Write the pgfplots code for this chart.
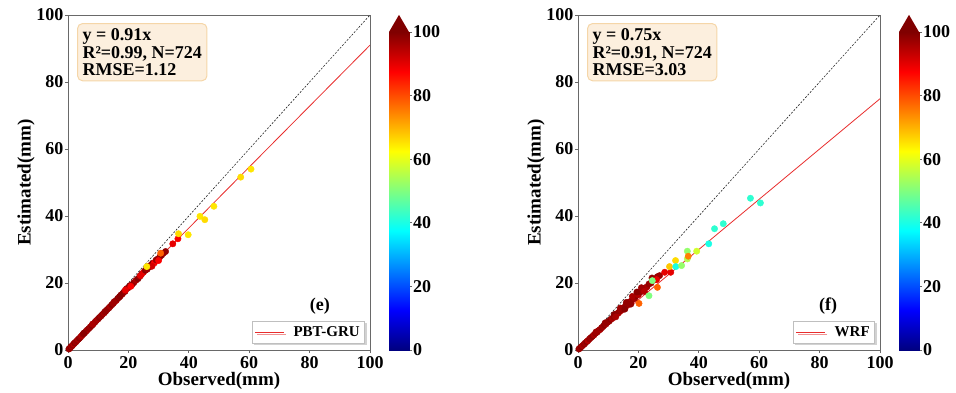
\documentclass[border=0pt]{standalone}
\usepackage{pgfplots}
\pgfplotsset{compat=1.18}
\usepackage{pgfplotstable}
\usepackage{fontspec}
\setmainfont{Liberation Serif}
\usetikzlibrary{shadows}
\definecolor{fitred}{RGB}{232,45,45}
\definecolor{frame}{RGB}{105,105,105}
\definecolor{boxfill}{RGB}{252,239,222}
\definecolor{boxdraw}{RGB}{245,214,168}
\definecolor{jetdark}{RGB}{128,0,0}

\pgfplotstableread{
x y c
0.3 0.3 98
0.6 0.5 97
0.9 0.9 99
1.2 1.1 96
1.5 1.4 98
1.9 1.8 95
2.2 2.1 99
2.6 2.4 97
3.0 2.8 98
3.4 3.2 96
3.8 3.5 99
4.2 3.9 97
4.6 4.3 95
5.0 4.7 98
5.5 5.1 97
6.0 5.6 99
6.4 6.0 96
6.9 6.4 98
7.4 6.9 97
7.9 7.3 99
8.4 7.8 95
8.9 8.3 98
9.4 8.8 97
9.9 9.2 96
10.4 9.7 99
10.9 10.1 97
11.4 10.6 98
12.0 11.1 96
12.5 11.6 99
13.0 12.1 97
13.5 12.5 98
14.0 13.0 96
14.5 13.5 99
15.0 13.9 97
15.5 14.5 98
16.0 14.8 95
16.5 15.4 99
17.0 15.8 97
17.5 16.4 98
18.0 16.7 96
18.4 17.2 99
18.9 17.5 97
19.4 18.3 98
20.0 18.6 96
20.5 19.2 99
21.2 19.5 97
21.8 20.1 98
22.5 20.8 96
23.2 21.3 99
23.8 22.0 97
24.4 22.7 98
25.0 23.2 90
25.6 23.8 99
26.2 24.1 97
26.8 24.7 98
27.4 25.3 96
28.0 25.9 99
28.6 26.0 88
29.2 26.9 97
29.8 27.2 98
30.4 27.8 96
31.0 28.3 99
31.6 28.9 97
32.3 29.4 98
5.2 5.0 99
8.1 7.7 96
12.2 11.4 98
15.2 14.3 97
17.2 16.0 99
19.0 17.9 90
20.8 19.0 88
24.0 22.2 90
26.5 24.9 99
27.8 25.0 92
30.0 26.7 88
26.1 24.9 65
30.7 28.9 78
34.7 31.7 90
36.4 33.2 88
36.6 34.7 66
39.8 34.4 65
43.7 39.9 65
45.3 38.9 66
48.3 42.9 65
57.2 51.6 66
60.6 54.0 65
}\gru

\pgfplotstableread{
x y c
0.3 0.3 98
0.7 0.6 97
1.1 1.0 99
1.5 1.3 96
2.0 1.7 98
2.4 2.1 97
2.9 2.5 99
3.3 2.8 95
3.8 3.3 98
4.3 3.7 97
4.8 4.1 99
5.3 4.5 96
5.8 5.0 98
6.3 5.3 97
6.8 5.8 99
7.3 6.1 95
7.8 6.6 98
8.3 7.0 97
8.8 7.5 99
9.3 7.8 96
9.8 8.3 98
10.3 8.6 97
10.8 9.1 99
11.3 9.4 96
11.8 9.9 98
12.3 10.2 97
12.8 10.8 99
13.3 11.0 95
13.8 11.6 98
14.3 11.9 97
14.8 12.5 99
15.3 12.6 96
15.8 13.3 98
16.4 13.5 97
17.0 14.3 99
17.6 14.6 96
18.2 15.3 98
18.8 15.4 97
19.4 16.3 99
20.0 16.5 95
20.7 17.4 98
21.4 17.6 97
22.1 18.5 99
22.8 18.8 96
23.5 19.7 98
24.2 20.0 97
24.9 20.9 99
25.6 21.2 96
26.3 21.9 98
27.0 22.2 97
6.0 5.4 97
9.0 8.1 98
12.0 10.6 99
14.0 12.5 97
16.0 14.2 98
18.0 16.0 96
19.5 17.3 99
21.0 18.6 97
24.5 21.5 98
26.0 21.0 90
12.5 9.9 96
15.5 12.2 99
17.5 13.7 98
22.0 17.5 95
28.7 23.2 90
30.7 23.2 90
30.3 24.9 68
32.3 26.7 66
32.4 24.9 40
34.3 25.2 52
36.2 27.2 55
36.2 29.5 52
39.3 29.5 58
36.5 28.0 75
43.3 31.7 40
45.2 36.2 42
48.1 37.7 42
57.1 45.3 42
60.4 43.9 42
23.5 16.2 50
24.6 20.7 50
26.3 18.7 78
20.2 13.9 78
}\wrf

\tikzset{
  info/.style={anchor=north west, draw=boxdraw, fill=boxfill, rounded corners=5pt,
    line width=1pt, align=left, inner xsep=5pt, inner ysep=5pt,
    font=\bfseries\fontsize{18}{17.5}\selectfont},
}
\pgfplotsset{
  myaxis/.style={
    anchor=south west,
    scale only axis, width=302pt, height=335pt,
    xmin=0, xmax=100, ymin=0, ymax=100,
    xtick={0,20,...,100}, ytick={0,20,...,100},
    tick align=outside, major tick length=3pt, tick pos=left,
    axis line style={frame, line width=0.8pt},
    tick style={frame, line width=0.8pt},
    /pgf/number format/assume math mode=true,
    tick label style={font=\bfseries\fontsize{18}{18}\selectfont, inner sep=1.5pt},
    xticklabel style={yshift=-1.5pt},
    label style={font=\bfseries\fontsize{19}{19}\selectfont},
    xlabel={Observed(mm)}, ylabel={Estimated(mm)},
    xlabel style={inner sep=0pt, yshift=-2pt},
    ylabel style={inner sep=0pt},
    colormap/jet, point meta min=0, point meta max=100,
    legend style={at={(0.983,0.021)}, anchor=south east, draw=black!25,
      fill=white, font=\bfseries\fontsize{15}{15}\selectfont,
      inner xsep=3pt, inner ysep=3pt,
      drop shadow={shadow xshift=2pt, shadow yshift=-2pt, fill=black!35}},
    legend image code/.code={\draw[#1] (0pt,0pt) -- (29pt,0pt);},
  },
  cbaxis/.style={
    anchor=south west, scale only axis, width=20pt, height=318pt,
    xmin=0, xmax=1, ymin=0, ymax=100, clip=false,
    xtick=\empty, ytick={0,20,...,100}, ytick pos=right, yticklabel pos=right,
    tick align=outside, major tick length=3pt,
    axis line style={frame, line width=0.8pt},
    tick style={frame, line width=0.8pt},
    /pgf/number format/assume math mode=true,
    yticklabel style={font=\bfseries\fontsize{18}{18}\selectfont, inner sep=1pt},
    colormap/jet, point meta min=0, point meta max=100,
  },
  sc/.style={scatter, only marks, mark=*, mark size=3.2pt, scatter src=explicit,
    scatter/use mapped color={draw=mapped color, fill=mapped color}, forget plot},
}

\begin{document}
\begin{tikzpicture}
\useasboundingbox (0,0) rectangle (956pt,392pt);
\begin{axis}[myaxis, at={(68pt,42pt)}]
  \addplot[black!85, line width=0.6pt, dash pattern=on 2pt off 1.5pt, forget plot] coordinates {(0,0) (100,100)};
  \addplot[fitred, line width=0.8pt] coordinates {(0,0) (100,91)};
  \addlegendentry{\hspace{7pt}PBT-GRU}
  \addplot[sc] table[x=x, y=y, meta=c] {\gru};
  \node[info] at (rel axis cs:0.03,0.976) {y = 0.91x\\R²=0.99, N=724\\RMSE=1.12};
  \node[font=\bfseries\fontsize{18}{18}\selectfont] at (rel axis cs:0.834,0.131) {(e)};
\end{axis}
\begin{axis}[cbaxis, at={(389pt,42pt)}]
  \addplot[surf, shader=interp, point meta=y, mesh/cols=2] coordinates {(0,0) (1,0) (0,100) (1,100)};
  \fill[jetdark] (axis cs:0,100) -- (axis cs:0.5,105.4) -- (axis cs:1,100) -- cycle;
\end{axis}

\begin{axis}[myaxis, at={(578pt,42pt)}]
  \addplot[black!85, line width=0.6pt, dash pattern=on 2pt off 1.5pt, forget plot] coordinates {(0,0) (100,100)};
  \addplot[fitred, line width=0.8pt] coordinates {(0,0) (100,75)};
  \addlegendentry{\hspace{7pt}WRF}
  \addplot[sc] table[x=x, y=y, meta=c] {\wrf};
  \node[info] at (rel axis cs:0.03,0.976) {y = 0.75x\\R²=0.91, N=724\\RMSE=3.03};
  \node[font=\bfseries\fontsize{18}{18}\selectfont] at (rel axis cs:0.828,0.131) {(f)};
\end{axis}
\begin{axis}[cbaxis, at={(899pt,42pt)}]
  \addplot[surf, shader=interp, point meta=y, mesh/cols=2] coordinates {(0,0) (1,0) (0,100) (1,100)};
  \fill[jetdark] (axis cs:0,100) -- (axis cs:0.5,105.4) -- (axis cs:1,100) -- cycle;
\end{axis}
\end{tikzpicture}
\end{document}
